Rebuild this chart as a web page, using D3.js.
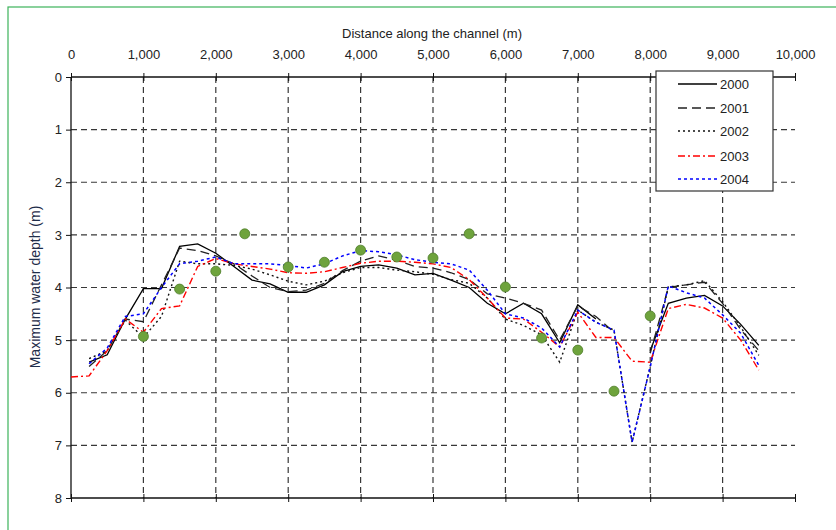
<!DOCTYPE html>
<html><head><meta charset="utf-8">
<script src="https://cdn.jsdelivr.net/npm/d3@7"></script>
<style>
html,body{margin:0;padding:0;background:#fff;}
svg{display:block;font-family:"Liberation Sans",Arial,sans-serif;}
</style></head>
<body>
<script>
const distance = [0,250,500,750,1000,1250,1500,1750,2000,2250,2500,2750,3000,3250,3500,3750,4000,4250,4500,4750,5000,5250,5500,5750,6000,6250,6500,6750,7000,7250,7500,7750,8000,8250,8500,8750,9000,9250,9500];
const depth2000 = [null,5.42,5.28,4.6,4.02,4.02,3.22,3.17,3.35,3.6,3.86,3.93,4.09,4.09,3.95,3.7,3.6,3.57,3.63,3.76,3.73,3.86,4.0,4.3,4.5,4.3,4.5,5.05,4.33,4.6,null,null,5.2,4.3,4.2,4.15,4.35,4.7,5.1];
const depth2001 = [null,5.5,5.2,4.6,4.65,3.95,3.25,3.3,3.4,3.55,3.78,4.0,4.08,4.05,3.92,3.68,3.5,3.4,3.48,3.6,3.63,3.72,3.85,4.12,4.2,4.3,4.43,5.0,4.35,4.55,4.85,null,5.25,4.0,3.95,3.9,4.3,4.8,5.2];
const depth2002 = [null,5.35,5.2,4.62,4.95,4.55,3.5,3.55,3.55,3.58,3.65,3.76,3.88,3.95,3.88,3.72,3.62,3.62,3.67,3.7,3.75,3.85,3.92,4.2,4.6,4.72,4.9,5.42,4.43,4.66,4.81,6.94,5.5,3.99,3.95,3.87,4.27,4.75,5.29];
const depth2003 = [5.7,5.68,5.2,4.6,4.85,4.4,4.35,3.6,3.45,3.55,3.6,3.65,3.72,3.73,3.7,3.62,3.54,3.5,3.5,3.52,3.55,3.62,3.85,4.2,4.58,4.6,4.85,5.13,4.47,4.95,4.95,5.4,5.42,4.4,4.32,4.39,4.58,5.0,5.57];
const depth2004 = [null,5.45,5.15,4.55,4.5,4.0,3.55,3.5,3.42,3.55,3.55,3.55,3.58,3.63,3.55,3.4,3.3,3.32,3.38,3.47,3.52,3.55,3.67,4.05,4.5,4.58,4.77,5.13,4.43,4.66,4.81,6.94,5.51,3.97,4.1,4.2,4.52,4.87,5.48];
const obsDistance = [1000,1500,2000,2400,3000,3500,4000,4500,5000,5500,6000,6500,7000,7500,8000];
const obsDepth = [4.93,4.03,3.69,2.98,3.61,3.52,3.29,3.42,3.44,2.98,3.99,4.96,5.19,5.97,4.54];
const seriesNames = ["2000","2001","2002","2003","2004"];
const xTicks = [0,1000,2000,3000,4000,5000,6000,7000,8000,9000,10000];
const yTicks = [0,1,2,3,4,5,6,7,8];

const styles = {
  "2000": {color:"#000", dash:null, w:1.3},
  "2001": {color:"#222", dash:"9,5", w:1.3},
  "2002": {color:"#111", dash:"2,3", w:1.4},
  "2003": {color:"#ff0000", dash:"7,3,2,3", w:1.4},
  "2004": {color:"#0000ff", dash:"3,3", w:1.5}
};
const allDepth = [depth2000,depth2001,depth2002,depth2003,depth2004];

const W=836,H=530;
const svg = d3.select("body").append("svg").attr("width",W).attr("height",H);
svg.append("rect").attr("x",8).attr("y",7).attr("width",W).attr("height",H).attr("fill","none").attr("stroke","#3cb35a").attr("stroke-width",1.2);

const x = d3.scaleLinear().domain([0,10000]).range([71,795]);
const y = d3.scaleLinear().domain([0,8]).range([77,498]);
const gridCol="#383838";

// grid
svg.append("g").selectAll("line").data(yTicks.filter(t=>t>0&&t<8)).join("line")
  .attr("x1",x(0)).attr("x2",x(10000)).attr("y1",d=>y(d)).attr("y2",d=>y(d))
  .attr("stroke",gridCol).attr("stroke-dasharray","6,4").attr("stroke-width",1.2);
svg.append("g").selectAll("line").data(xTicks.filter(t=>t>0&&t<10000)).join("line")
  .attr("x1",d=>x(d)).attr("x2",d=>x(d)).attr("y1",y(0)).attr("y2",y(8))
  .attr("stroke",gridCol).attr("stroke-dasharray","6,4").attr("stroke-width",1.2);

// axes
const topAx = svg.append("g").attr("transform",`translate(0,${y(0)})`)
  .call(d3.axisTop(x).tickValues(xTicks).tickFormat(d3.format(",")).tickSize(4).tickPadding(14));
topAx.selectAll(".tick line").attr("y1",4).attr("y2",-4);
const botAx = svg.append("g").attr("transform",`translate(0,${y(8)})`)
  .call(d3.axisBottom(x).tickValues(xTicks).tickFormat("").tickSize(4));
botAx.selectAll(".tick line").attr("y1",-4).attr("y2",4);
const leftAx = svg.append("g").attr("transform",`translate(${x(0)},0)`)
  .call(d3.axisLeft(y).tickValues(yTicks).tickSize(5).tickPadding(4));
[topAx,botAx,leftAx].forEach(g=>{
  g.select(".domain").attr("stroke","#111").attr("stroke-width",1.3);
  g.selectAll(".tick line").attr("stroke","#111").attr("stroke-width",1);
  g.selectAll("text").attr("font-size",13).attr("fill","#222").attr("font-family","'Liberation Sans',Arial,sans-serif");
});
botAx.select(".domain").attr("d",`M${x(0)},0H${x(10000)}`);
topAx.select(".domain").attr("d",`M${x(0)},0H${x(10000)}`);
leftAx.select(".domain").attr("d",`M0,${y(0)}V${y(8)}`);

// titles
svg.append("text").attr("x",432).attr("y",38).attr("text-anchor","middle")
  .attr("font-size",13).attr("fill","#222").text("Distance along the channel (m)");
svg.append("text").attr("transform","translate(40,287) rotate(-90)").attr("text-anchor","middle")
  .attr("font-size",14).attr("fill","#1f2d4a").text("Maximum water depth (m)");

// lines
const line = d3.line().defined(d=>d[1]!==null).x(d=>x(d[0])).y(d=>y(d[1]));
seriesNames.forEach((n,i)=>{
  const pts = distance.map((d,j)=>[d,allDepth[i][j]]);
  const s = styles[n];
  svg.append("path").datum(pts).attr("d",line).attr("fill","none")
    .attr("stroke",s.color).attr("stroke-width",s.w)
    .attr("stroke-dasharray",s.dash);
});

// observations
svg.append("g").selectAll("circle").data(obsDistance.map((d,i)=>[d,obsDepth[i]])).join("circle")
  .attr("cx",d=>x(d[0])).attr("cy",d=>y(d[1])).attr("r",5)
  .attr("fill","#6ea33c").attr("stroke","#4e7d2a").attr("stroke-width",0.8);

// legend
const lg = svg.append("g");
lg.append("rect").attr("x",656).attr("y",71).attr("width",117).attr("height",120)
  .attr("fill","#fff").attr("stroke","#333").attr("stroke-width",1.2);
const rowY=[84,108,131,156,179];
seriesNames.forEach((n,i)=>{
  const s=styles[n];
  lg.append("line").attr("x1",678).attr("x2",717).attr("y1",rowY[i]).attr("y2",rowY[i])
    .attr("stroke",s.color).attr("stroke-width",s.w).attr("stroke-dasharray",s.dash);
  lg.append("text").attr("x",720).attr("y",rowY[i]+4.5).attr("font-size",13).attr("fill","#222").text(n);
});
</script>
</body></html>
